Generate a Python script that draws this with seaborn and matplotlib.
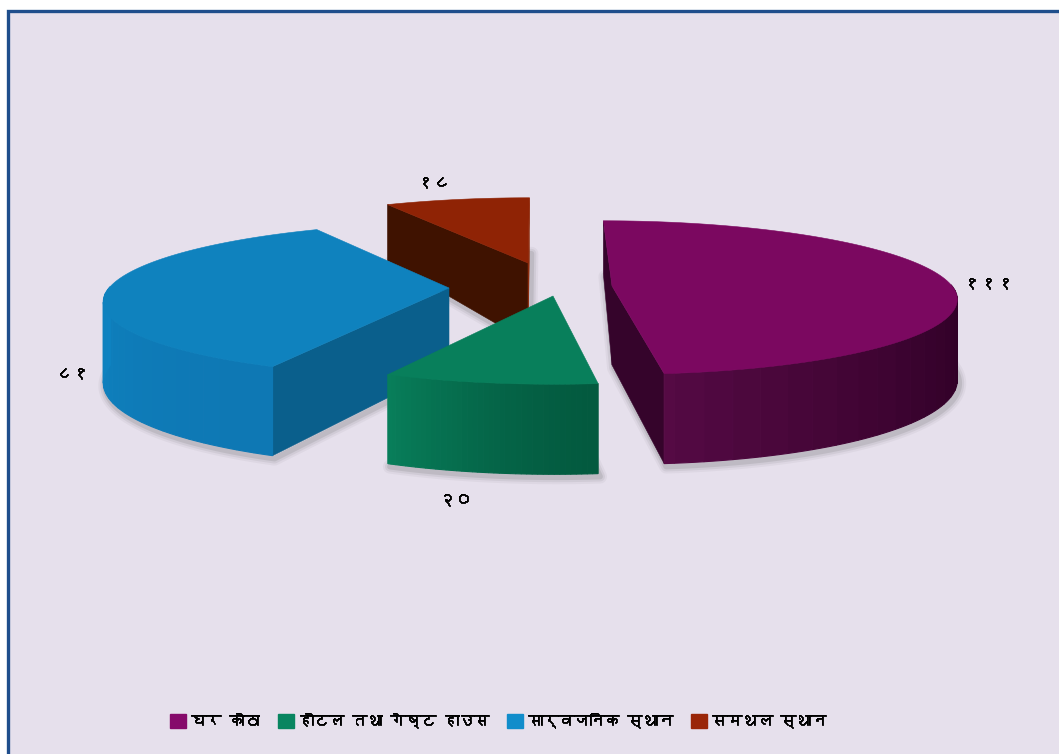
import numpy as np
import matplotlib
matplotlib.use("Agg")
import matplotlib.pyplot as plt
import matplotlib.patheffects as pe
from matplotlib import font_manager as fm
from matplotlib.patches import Patch
import seaborn as sns

categories = ['घर कोठा', 'होटल तथा गेष्ट हाउस', 'सार्वजनिक स्थान', 'समथल स्थान']
values = [111, 20, 81, 18]
value_labels = ['१११', '२०', '८१', '१८']

legend_colors = ['#860A6B', '#088560', '#118DCB', '#9A2608']
top_colors = ['#7B0860', '#087F5B', '#0F82BE', '#8F2305']
rim_start = ['#2F0026', '#035A3F', '#0E78B4', '#5A1A05']
rim_end = ['#560A45', '#087F5B', '#0F84C2', '#5A1A05']
# visible cut faces of each slice: 0 is the first edge, -1 the last one
faces = [{0: '#35042B', -1: '#35042B'}, {}, {0: '#0A5F8C'}, {0: '#3F1200', -1: '#8A2A0A'}]

# layout in pixels: where each slice's point sits and where its number goes
apex = [(612, 286), (553, 296), (449, 288), (528, 263)]
label_pos = [(988, 284), (455, 500), (72, 374), (433, 183)]

RX, RY, K, H0, VX = 340, 75, 0.15, 79, 540

sns.set_theme(style="white")

# look for an installed font that has Devanagari
deva = []
for f in fm.fontManager.ttflist:
    try:
        if 0x0918 in fm.get_font(f.fname).get_charmap() and f.name not in deva:
            deva.append(f.name)
    except Exception:
        pass
plt.rcParams['font.family'] = deva[:1] + ['DejaVu Sans']


def project(a, pt):
    s, c = np.sin(a), np.cos(a)
    w = 1 / (1 + K * c)
    x = pt[0] + RX * s * w - (pt[0] - VX) * 0.12 * c
    y = pt[1] - RY * c * w
    h = H0 * np.where(c < 0, 1 - 0.14 * c, 1 - 0.33 * c)
    return x, y, h


fig, ax = plt.subplots(figsize=(10.59, 7.54), dpi=100)
fig.patch.set_facecolor('white')
ax.set_position([0, 0, 1, 1])
ax.set_xlim(0, 1059)
ax.set_ylim(754, 0)
ax.axis('off')

# panel with the blue edge, runs off the right and bottom
ax.fill([8, 1070, 1070, 8], [11, 11, 770, 770], fc='#E6E0EC', ec='#1F4E8C', lw=2.4, zorder=0)

angles = np.radians(np.concatenate([[0], np.cumsum(values)]) / sum(values) * 360)
# far slices first so the near ones cover them
order = [3, 2, 1, 0]
for n, i in enumerate(order):
    z = 2 + n * 3
    a0, a1 = angles[i], angles[i + 1]
    t = np.linspace(a0, a1, 120)
    x, y, h = project(t, apex[i])
    px, py = apex[i]

    # soft shadow under the slice
    for lw, al in [(10, 0.06), (7, 0.09), (4, 0.14)]:
        ax.fill(np.r_[px, x] + 2, np.r_[py + H0, y + h] + 3, fc='none', ec='#555555',
                lw=lw, alpha=al, zorder=z - 1, joinstyle='round')

    # cut faces
    for e, col in faces[i].items():
        ax.fill([px, x[e], x[e], px], [py, y[e], y[e] + h[e], py + H0],
                fc=col, ec=col, lw=0.4, zorder=z)

    # rim, in bands
    c0 = np.array(matplotlib.colors.to_rgb(rim_start[i]))
    c1 = np.array(matplotlib.colors.to_rgb(rim_end[i]))
    vis = np.where(np.cos(t) < 0.02)[0]
    if len(vis) > 1 and i != 3:
        step = 3
        for j in range(vis[0], vis[-1], step):
            k = min(j + step, vis[-1])
            f = ((t[j] - t[vis[0]]) / max(t[vis[-1]] - t[vis[0]], 1e-6)) ** 1.5
            col = c0 + (c1 - c0) * f
            ax.fill(np.r_[x[j:k + 1], x[j:k + 1][::-1]],
                    np.r_[y[j:k + 1], (y + h)[j:k + 1][::-1]],
                    fc=col, ec=col, lw=0.8, zorder=z)

    # top
    ax.fill(np.r_[px, x], np.r_[py, y], fc=top_colors[i], ec=top_colors[i], lw=0.4, zorder=z + 1)

bold = [pe.withStroke(linewidth=0.6, foreground='black')]
for lab, pos in zip(value_labels, label_pos):
    ax.text(pos[0], pos[1], lab, fontsize=12, color='black', ha='center', va='center',
            zorder=30, path_effects=bold)

handles = [Patch(fc=c, ec=c, label=l) for c, l in zip(legend_colors, categories)]
leg = ax.legend(handles=handles, loc='center', bbox_to_anchor=(498, 720), bbox_transform=ax.transData,
                ncol=4, frameon=False, fontsize=11, handlelength=1.05, handleheight=1.05,
                handletextpad=0.3, columnspacing=1.2, labelcolor='black')
for txt in leg.get_texts():
    txt.set_path_effects([pe.withStroke(linewidth=0.6, foreground='black')])

fig.savefig('out.png', dpi=100, facecolor=fig.get_facecolor())
